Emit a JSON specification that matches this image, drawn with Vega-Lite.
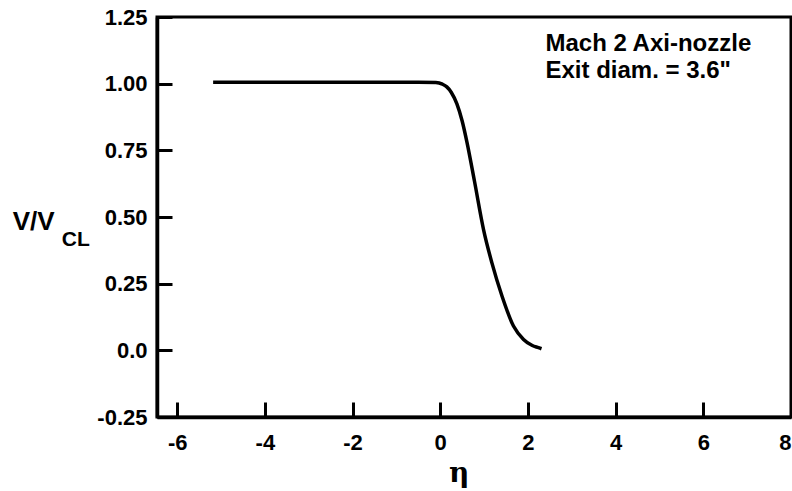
{
  "$schema": "https://vega.github.io/schema/vega-lite/v6.json",
  "width": 634,
  "height": 400,
  "autosize": {"type": "none"},
  "padding": {"left": 157, "top": 17, "right": 1, "bottom": 74},
  "background": "white",
  "config": {
    "font": "Liberation Sans",
    "view": {"stroke": "black", "strokeWidth": 3},
    "axis": {
      "domainColor": "black", "domainWidth": 3.5, "tickColor": "black", "tickWidth": 3,
      "grid": false, "labelFont": "Liberation Sans", "labelFontWeight": "bold", "labelFontSize": 22, "labelColor": "black"
    }
  },
  "datasets": {
    "profile": [
      {"eta": -5.18, "v": 1.005}, {"eta": -4, "v": 1.005}, {"eta": -2, "v": 1.005}, {"eta": -0.5, "v": 1.005},
      {"eta": -0.1, "v": 1.004}, {"eta": 0.05, "v": 0.998}, {"eta": 0.15, "v": 0.988}, {"eta": 0.25, "v": 0.968},
      {"eta": 0.38, "v": 0.924}, {"eta": 0.5, "v": 0.86}, {"eta": 0.61, "v": 0.78}, {"eta": 0.78, "v": 0.635},
      {"eta": 0.99, "v": 0.451}, {"eta": 1.18, "v": 0.327}, {"eta": 1.41, "v": 0.203}, {"eta": 1.67, "v": 0.091},
      {"eta": 1.9, "v": 0.041}, {"eta": 2.1, "v": 0.018}, {"eta": 2.24, "v": 0.01}, {"eta": 2.31, "v": 0.006}
    ],
    "notes": [
      {"eta": 2.4, "v": 1.123, "label": "Mach 2 Axi-nozzle", "size": 24},
      {"eta": 2.4, "v": 1.022, "label": "Exit diam. = 3.6\"", "size": 24},
      {"eta": -9.75, "v": 0.4515, "label": "V/V", "size": 26},
      {"eta": -8.63, "v": 0.392, "label": "CL", "size": 21}
    ],
    "axisTitle": [
      {"eta": 0.43, "v": -0.4925, "label": "η", "size": 28}
    ]
  },
  "layer": [
    {
      "data": {"name": "profile"},
      "mark": {"type": "line", "color": "black", "strokeWidth": 3.5, "interpolate": "monotone"},
      "encoding": {
        "x": {"field": "eta", "type": "quantitative",
              "scale": {"domain": [-6.46, 8], "nice": false, "zero": false},
              "axis": {"values": [-6, -4, -2, 0, 2, 4, 6, 8], "tickSize": -15, "labelPadding": 30,
                       "labelExpr": "'' + datum.value", "title": null}},
        "y": {"field": "v", "type": "quantitative",
              "scale": {"domain": [-0.25, 1.25], "nice": false, "zero": false},
              "axis": {"values": [-0.25, 0, 0.25, 0.5, 0.75, 1, 1.25], "tickSize": -15, "labelPadding": 25,
                       "labelExpr": "datum.value == 0 ? '0.0' : (datum.value < 0 ? '-' : '') + format(abs(datum.value), '.2f')",
                       "title": null}}
      }
    },
    {
      "data": {"name": "notes"},
      "mark": {"type": "text", "align": "left", "baseline": "alphabetic", "fontWeight": "bold", "font": "Liberation Sans", "color": "black"},
      "encoding": {
        "x": {"field": "eta", "type": "quantitative"},
        "y": {"field": "v", "type": "quantitative"},
        "text": {"field": "label"},
        "size": {"field": "size", "type": "quantitative", "scale": null}
      }
    },
    {
      "data": {"name": "axisTitle"},
      "mark": {"type": "text", "align": "center", "baseline": "alphabetic", "fontWeight": "bold", "font": "DejaVu Serif", "color": "black"},
      "encoding": {
        "x": {"field": "eta", "type": "quantitative"},
        "y": {"field": "v", "type": "quantitative"},
        "text": {"field": "label"},
        "size": {"field": "size", "type": "quantitative", "scale": null}
      }
    }
  ]
}
